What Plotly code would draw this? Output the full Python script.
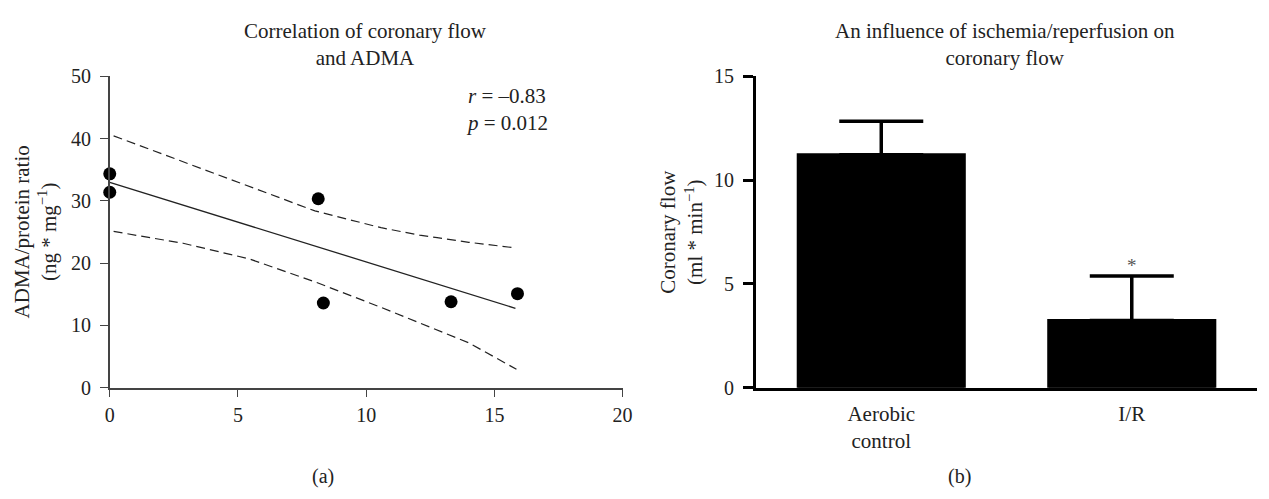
import plotly.graph_objects as go

# ---- Panel (a): correlation data ----
corr_x = [0.0, 0.0, 8.13, 8.33, 13.31, 15.9]
corr_y = [34.35, 31.4, 30.35, 13.6, 13.8, 15.1]
fit_x = [0.0, 15.82]
fit_y = [33.0, 12.75]
upper_x = [0.15, 2.86, 5.43, 8.0, 10.58, 12.08, 12.77, 14.0, 15.73]
upper_y = [40.46, 36.26, 32.4, 28.4, 25.7, 24.5, 24.1, 23.35, 22.5]
lower_x = [0.15, 2.86, 5.43, 8.0, 10.58, 12.08, 12.9, 14.0, 15.86]
lower_y = [25.1, 23.2, 20.7, 17.0, 12.9, 10.4, 9.1, 7.2, 2.95]
x_ticks_a = [0, 5, 10, 15, 20]
y_ticks_a = [0, 10, 20, 30, 40, 50]

# ---- Panel (b): bar data ----
groups = ["Aerobic<br>control", "I/R"]
means = [11.23, 3.24]
sem = [1.61, 2.14]
y_ticks_b = [0, 5, 10, 15]
star_y = 5.9

FONT = "Liberation Serif"
fig = go.Figure()

dash = "9px,5px"
fig.add_trace(go.Scatter(x=upper_x, y=upper_y, mode="lines", line=dict(color="#222", width=1.2, dash=dash),
                         xaxis="x", yaxis="y", showlegend=False, hoverinfo="skip"))
fig.add_trace(go.Scatter(x=lower_x, y=lower_y, mode="lines", line=dict(color="#222", width=1.2, dash=dash),
                         xaxis="x", yaxis="y", showlegend=False, hoverinfo="skip"))
fig.add_trace(go.Scatter(x=fit_x, y=fit_y, mode="lines", line=dict(color="#222", width=1.3),
                         xaxis="x", yaxis="y", showlegend=False, hoverinfo="skip"))
fig.add_trace(go.Scatter(x=corr_x, y=corr_y, mode="markers", marker=dict(color="black", size=13),
                         cliponaxis=False, xaxis="x", yaxis="y", showlegend=False, hoverinfo="skip"))

fig.add_trace(go.Bar(x=groups, y=means, width=0.663,
                     marker=dict(color="black", line=dict(width=3, color="black")),
                     error_y=dict(type="data", symmetric=False, array=sem, arrayminus=[0, 0],
                                  color="black", thickness=3.5, width=42),
                     xaxis="x2", yaxis="y2", showlegend=False, hoverinfo="skip"))

tick_font = dict(family=FONT, size=20, color="#222")
y0 = (499 - 394) / 499
y1 = (499 - 68.5) / 499

fig.update_layout(
    width=1269, height=499,
    margin=dict(l=0, r=0, t=0, b=0),
    paper_bgcolor="white", plot_bgcolor="white",
    font=dict(family=FONT, color="#222"),
    hovermode=False,
    xaxis=dict(domain=[106/1269, 625/1269], range=[0, 20], tickvals=x_ticks_a,
               showgrid=False, zeroline=False, showline=True, linecolor="#444", linewidth=1.6,
               ticks="outside", ticklen=8, tickwidth=1.2, tickcolor="#444", tickfont=tick_font,
               ticklabelstandoff=1, anchor="y"),
    yaxis=dict(domain=[y0, y1], range=[0, 50], tickvals=y_ticks_a,
               showgrid=False, zeroline=False, showline=True, linecolor="#444", linewidth=1.6,
               ticks="outside", ticklen=8, tickwidth=1.2, tickcolor="#444", tickfont=tick_font,
               ticklabelstandoff=5, anchor="x"),
    xaxis2=dict(domain=[760/1269, 1267/1269], range=[-0.5, 1.5], type="category",
                showgrid=False, zeroline=False, showline=True, linecolor="black", linewidth=3,
                ticks="", tickfont=dict(family=FONT, size=21, color="#222"),
                ticklabelstandoff=5, anchor="y2"),
    yaxis2=dict(domain=[y0, y1], range=[0, 15], tickvals=y_ticks_b,
                showgrid=False, zeroline=False, showline=True, linecolor="black", linewidth=3,
                ticks="outside", ticklen=10, tickwidth=2.5, tickcolor="black", tickfont=tick_font,
                ticklabelstandoff=5, anchor="x2"),
)

def ann(text, x, y, size, **kw):
    d = dict(text=text, x=x, y=y, xref="paper", yref="paper", showarrow=False,
             font=dict(family=FONT, size=size, color="#222"))
    d.update(kw)
    fig.add_annotation(**d)

ann("Correlation of coronary flow<br>and ADMA", 365/1269, (499-35)/499, 21, xanchor="center", yanchor="middle")
ann("An influence of ischemia/reperfusion on<br>coronary flow", 1012/1269, (499-35)/499, 21, xanchor="center", yanchor="middle")
ann("<i>r</i> = –0.83<br><i>p</i> = 0.012", 464/1269, (499-103)/499, 21, xanchor="left", yanchor="middle", align="left")
ann("ADMA/protein ratio<br>(ng * mg<sup>−1</sup>)", 31/1269, (499-231)/499, 21, xanchor="center", yanchor="middle", textangle=-90)
ann("Coronary flow<br>(ml * min<sup>−1</sup>)", 685/1269, (499-231)/499, 21, xanchor="center", yanchor="middle", textangle=-90)
ann("(a)", 322/1269, (499-487)/499, 20, xanchor="center", yanchor="middle")
ann("(b)", 966/1269, (499-487)/499, 20, xanchor="center", yanchor="middle")
fig.add_annotation(text="*", x=groups[1], y=star_y, xref="x2", yref="y2", showarrow=False,
                   font=dict(family=FONT, size=19, color="#555"), yanchor="middle")

fig.write_html("out.html", config={"displayModeBar": False},
               post_script="document.body.style.margin='0px';")
